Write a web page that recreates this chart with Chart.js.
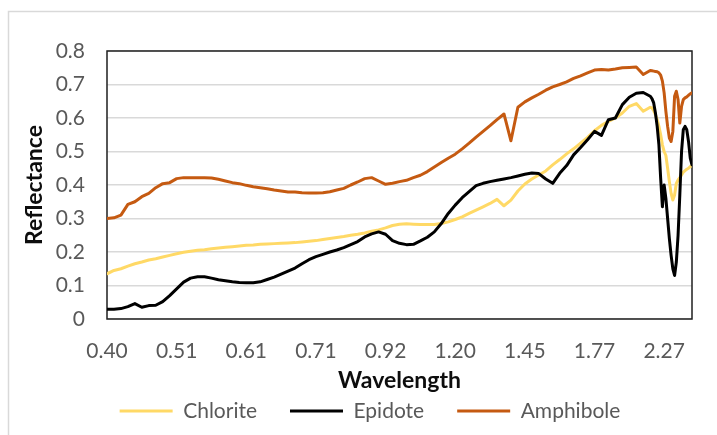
<!DOCTYPE html>
<html>
<head>
<meta charset="utf-8">
<title>Reflectance spectra</title>
<script src="https://cdn.jsdelivr.net/npm/chart.js@4.4.0/dist/chart.umd.min.js"></script>
<style>
    html, body { margin: 0; padding: 0; background: #fff; }
    #wrap { position: relative; width: 717px; height: 435px; }
</style>
</head>
<body>
<div id="wrap"><canvas id="spectra"></canvas></div>
<script>
// band index of each sample in the resampled spectra (finer steps in the SWIR tail)
const band = [
    0, 1, 2, 3, 4, 5, 6, 7, 8, 9,
    10, 11, 12, 13, 14, 15, 16, 17, 18, 19,
    20, 21, 22, 23, 24, 25, 26, 27, 28, 29,
    30, 31, 32, 33, 34, 35, 36, 37, 38, 39,
    40, 41, 42, 43, 44, 45, 46, 47, 48, 49,
    50, 51, 52, 53, 54, 55, 56, 57, 58, 59,
    60, 61, 62, 63, 64, 65, 66, 67, 68, 69,
    70, 71, 72, 73, 74, 75, 76, 77, 78,
    78.25, 78.5, 78.75, 79, 79.25, 79.5, 79.75, 80,
    80.25, 80.5, 80.75, 81, 81.25, 81.5, 81.75, 82,
    82.25, 82.5, 82.75, 83, 83.25, 83.5, 83.75, 84
];

// wavelength (µm) shown every 10 bands
const tickLabels = ['0.40', '0.51', '0.61', '0.71', '0.92', '1.20', '1.45', '1.77', '2.27'];
const yTickLabels = ['0', '0.1', '0.2', '0.3', '0.4', '0.5', '0.6', '0.7', '0.8'];

const chlorite = [
    0.135, 0.145, 0.15, 0.158, 0.165, 0.17, 0.176, 0.18, 0.185, 0.19,
    0.195, 0.199, 0.202, 0.205, 0.207, 0.21, 0.212, 0.214, 0.216, 0.218,
    0.22, 0.221, 0.223, 0.224, 0.225, 0.226, 0.227, 0.228, 0.23, 0.232,
    0.234, 0.237, 0.24, 0.243, 0.246, 0.25, 0.253, 0.257, 0.262, 0.266,
    0.272, 0.279, 0.283, 0.284, 0.283, 0.282, 0.282, 0.282, 0.285, 0.29,
    0.297, 0.305, 0.315, 0.325, 0.335, 0.345, 0.357, 0.338, 0.355, 0.382,
    0.403, 0.418, 0.43, 0.442, 0.46, 0.476, 0.493, 0.508, 0.525, 0.542,
    0.562, 0.578, 0.59, 0.6, 0.615, 0.635, 0.643, 0.62, 0.632,
    0.63, 0.622, 0.61, 0.595, 0.575, 0.55, 0.52, 0.5,
    0.488, 0.45, 0.41, 0.375, 0.355, 0.37, 0.405, 0.415,
    0.422, 0.43, 0.438, 0.443, 0.447, 0.45, 0.455, 0.458
];

const epidote = [
    0.029, 0.029, 0.031, 0.037, 0.046, 0.035, 0.04, 0.041, 0.052, 0.07,
    0.09, 0.11, 0.122, 0.126, 0.126, 0.122, 0.117, 0.114, 0.111, 0.109,
    0.108, 0.108, 0.111, 0.118, 0.125, 0.134, 0.143, 0.152, 0.165, 0.177,
    0.186, 0.193, 0.2, 0.206, 0.213, 0.222, 0.231, 0.245, 0.254, 0.26,
    0.253, 0.234, 0.226, 0.222, 0.223, 0.233, 0.244, 0.26, 0.285, 0.315,
    0.34, 0.362, 0.38, 0.398, 0.405, 0.41, 0.414, 0.418, 0.422, 0.427,
    0.432, 0.436, 0.434, 0.418, 0.405, 0.435, 0.458, 0.49, 0.512, 0.535,
    0.56, 0.548, 0.595, 0.6, 0.64, 0.662, 0.674, 0.676, 0.665,
    0.658, 0.645, 0.615, 0.575, 0.52, 0.42, 0.335, 0.4,
    0.36, 0.3, 0.24, 0.19, 0.15, 0.13, 0.17, 0.25,
    0.37, 0.5, 0.565, 0.575, 0.565, 0.53, 0.48, 0.46
];

const amphibole = [
    0.30, 0.302, 0.31, 0.342, 0.35, 0.365, 0.375, 0.392, 0.404, 0.407,
    0.419, 0.422, 0.422, 0.422, 0.422, 0.421, 0.417, 0.412, 0.407, 0.404,
    0.399, 0.395, 0.392, 0.389, 0.385, 0.382, 0.379, 0.379, 0.377, 0.376,
    0.376, 0.377, 0.38, 0.385, 0.39, 0.4, 0.409, 0.419, 0.422, 0.412,
    0.402, 0.405, 0.41, 0.414, 0.422, 0.429, 0.44, 0.454, 0.467, 0.48,
    0.492, 0.508, 0.525, 0.543, 0.56, 0.577, 0.595, 0.612, 0.532, 0.632,
    0.648, 0.66, 0.671, 0.683, 0.693, 0.7, 0.708, 0.718, 0.726, 0.735,
    0.743, 0.745, 0.743, 0.746, 0.75, 0.751, 0.752, 0.73, 0.742,
    0.741, 0.74, 0.739, 0.738, 0.735, 0.728, 0.71, 0.675,
    0.62, 0.575, 0.54, 0.53, 0.56, 0.665, 0.68, 0.655,
    0.585, 0.635, 0.655, 0.66, 0.663, 0.668, 0.672, 0.675
];

const TEXT_GREY = '#595959';
const FONT = 'Lato';

function series(label, values, colour, order) {
    return {
        label: label,
        data: band.map((b, i) => ({x: b, y: values[i]})),
        borderColor: colour,
        backgroundColor: colour,
        borderWidth: 3,
        borderJoinStyle: 'round',
        borderCapStyle: 'round',
        pointRadius: 0,
        tension: 0,
        order: order
    };
}

// white page, light outer frame and the dark plot-area border
const chartFrame = {
    id: 'chartFrame',
    beforeDraw(chart) {
        const ctx = chart.ctx;
        ctx.save();
        ctx.fillStyle = '#fff';
        ctx.fillRect(0, 0, chart.width, chart.height);
        ctx.strokeStyle = '#d9d9d9';
        ctx.lineWidth = 1.5;
        ctx.beginPath();
        ctx.moveTo(8.5, chart.height);
        ctx.lineTo(8.5, 11.5);
        ctx.lineTo(chart.width, 11.5);
        ctx.stroke();
        ctx.restore();
    },
    beforeDatasetsDraw(chart) {
        const a = chart.chartArea;
        const ctx = chart.ctx;
        ctx.save();
        ctx.strokeStyle = '#1f1f1f';
        ctx.lineWidth = 1.5;
        ctx.strokeRect(a.left, a.top, a.right - a.left, a.bottom - a.top);
        ctx.restore();
    }
};

new Chart(document.getElementById('spectra'), {
    type: 'line',
    data: {
        datasets: [
            series('Chlorite', chlorite, '#FFD966', 3),
            series('Epidote', epidote, '#000000', 2),
            series('Amphibole', amphibole, '#C55A11', 1)
        ]
    },
    options: {
        responsive: true,
        maintainAspectRatio: false,
        animation: false,
        devicePixelRatio: 1,
        layout: {
            padding: {top: 51, right: 25, bottom: 3.5, left: 48}
        },
        plugins: {
            legend: {
                position: 'bottom',
                labels: {
                    usePointStyle: true,
                    pointStyle: 'line',
                    pointStyleWidth: 53,
                    padding: 33,
                    color: TEXT_GREY,
                    font: {family: FONT, size: 21},
                    sort: (a, b) => a.datasetIndex - b.datasetIndex
                }
            },
            tooltip: {enabled: false}
        },
        scales: {
            x: {
                type: 'linear',
                min: 0,
                max: 84,
                grid: {display: false, drawTicks: false},
                border: {display: false},
                ticks: {
                    stepSize: 10,
                    includeBounds: false,
                    autoSkip: false,
                    maxRotation: 0,
                    padding: 20,
                    color: TEXT_GREY,
                    font: {family: FONT, size: 21},
                    callback: value => tickLabels[value / 10]
                },
                title: {
                    display: true,
                    text: 'Wavelength',
                    color: '#0d0d0d',
                    font: {family: FONT, size: 23, weight: 'bold'},
                    padding: {top: 0, bottom: -27.3}
                },
                afterFit(scale) {
                    scale.height = 48.5;
                }
            },
            y: {
                min: 0,
                max: 0.8,
                grid: {color: '#d9d9d9', lineWidth: 1.5, drawTicks: false},
                border: {display: false},
                ticks: {
                    stepSize: 0.1,
                    padding: 22,
                    color: TEXT_GREY,
                    font: {family: FONT, size: 21},
                    callback: (value, index) => yTickLabels[index]
                },
                title: {
                    display: true,
                    text: 'Reflectance',
                    color: '#0d0d0d',
                    font: {family: FONT, size: 23, weight: 'bold'},
                    padding: {top: -26.8, bottom: 0}
                },
                afterFit(scale) {
                    scale.width = 59;
                }
            }
        }
    },
    plugins: [chartFrame]
});
</script>
</body>
</html>
